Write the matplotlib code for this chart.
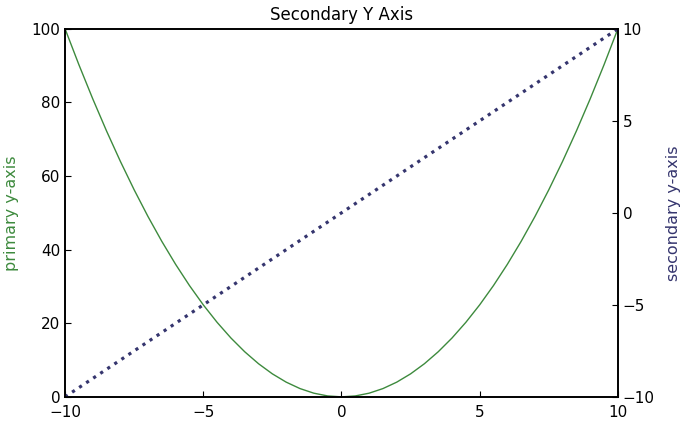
import numpy as np
import matplotlib.pyplot as plt

# values
x = [-10, -9.5, -9, -8.5, -8, -7.5, -7, -6.5, -6, -5.5, -5, -4.5, -4, -3.5, -3,
     -2.5, -2, -1.5, -1, -0.5, 0, 0.5, 1, 1.5, 2, 2.5, 3, 3.5, 4, 4.5, 5,
     5.5, 6, 6.5, 7, 7.5, 8, 8.5, 9, 9.5, 10]
primary = [100, 90.25, 81, 72.25, 64, 56.25, 49, 42.25, 36, 30.25, 25, 20.25, 16,
           12.25, 9, 6.25, 4, 2.25, 1, 0.25, 0, 0.25, 1, 2.25, 4, 6.25, 9, 12.25,
           16, 20.25, 25, 30.25, 36, 42.25, 49, 56.25, 64, 72.25, 81, 90.25, 100]
secondary = [-10, -9.5, -9, -8.5, -8, -7.5, -7, -6.5, -6, -5.5, -5, -4.5, -4, -3.5,
             -3, -2.5, -2, -1.5, -1, -0.5, 0, 0.5, 1, 1.5, 2, 2.5, 3, 3.5, 4, 4.5,
             5, 5.5, 6, 6.5, 7, 7.5, 8, 8.5, 9, 9.5, 10]

green = '#3d8a3d'
navy = '#35356e'

fig = plt.figure(figsize=(6.85, 4.24), dpi=100)
ax = fig.add_axes([0.095, 0.064, 0.807, 0.868])
ax.plot(x, primary, color=green, lw=1.0)
ax.set_xlim(-10, 10)
ax.set_ylim(0, 100)
ax.set_xticks([-10, -5, 0, 5, 10])
ax.set_yticks([0, 20, 40, 60, 80, 100])
ax.set_xticklabels(['\u221210', '\u22125', '0', '5', '10'])
ax.set_ylabel('primary y-axis', color=green, fontsize=11.5, labelpad=9)
ax.set_title('Secondary Y Axis', fontsize=12)
ax.tick_params(direction='in', labelsize=11, length=4)
ax.tick_params(axis='x', pad=6)
for s in ax.spines.values():
    s.set_linewidth(1.2)

ax2 = ax.twinx()
ax2.plot(x, secondary, color=navy, lw=2.3, ls=':')
ax2.set_ylim(-10, 10)
ax2.set_yticks([-10, -5, 0, 5, 10])
ax2.set_yticklabels(['\u221210', '\u22125', '0', '5', '10'])
ax2.set_ylabel('secondary y-axis', color=navy, fontsize=11.5, labelpad=8)
ax2.tick_params(direction='in', labelsize=11, length=4)
for s in ax2.spines.values():
    s.set_linewidth(1.2)

fig.savefig('out.png', dpi=100)
